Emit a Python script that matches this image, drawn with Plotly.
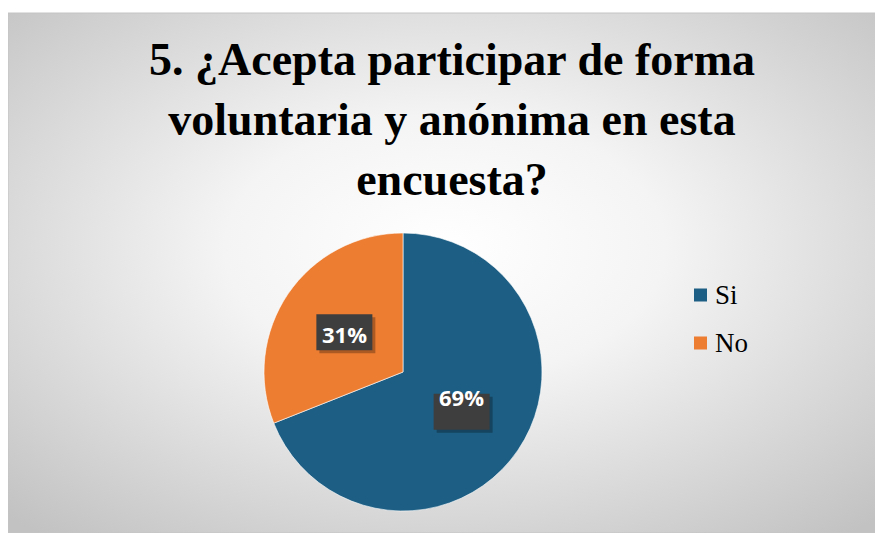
import math
import urllib.parse
import plotly.graph_objects as go

# ---- data ----
labels = ["Si", "No"]
values = [69, 31]
colors = ["#1D5F84", "#ED7D31"]
title_text = "5. ¿Acepta participar de forma<br>voluntaria y anónima en esta<br>encuesta?"

W, H = 883, 533
# page body adds an 8px offset; positions below are in figure pixels
PCX, PCY, PR = 395, 364, 139

total = sum(values)
pct = [f"{round(v / total * 100)}%" for v in values]

fig = go.Figure()
fig.add_trace(go.Pie(
    labels=labels, values=values, sort=False, direction="clockwise", rotation=0,
    marker=dict(colors=colors, line=dict(color="white", width=0.6)),
    textinfo="none", hoverinfo="label+percent", showlegend=False,
    domain=dict(x=[(PCX - PR) / W, (PCX + PR) / W],
                y=[(H - PCY - PR) / H, (H - PCY + PR) / H]),
))

# background radial gradient (chart area)
svg = ("<svg xmlns='http://www.w3.org/2000/svg' width='874' height='520' preserveAspectRatio='none'>"
       "<defs><radialGradient id='g' cx='50%' cy='45%' r='72%'>"
       "<stop offset='0' stop-color='#ffffff'/><stop offset='0.35' stop-color='#f4f4f4'/>"
       "<stop offset='1' stop-color='#c2c2c2'/></radialGradient></defs>"
       "<rect width='874' height='520' fill='url(#g)'/></svg>")
src = "data:image/svg+xml;charset=utf-8," + urllib.parse.quote(svg)
x0, x1, y0, y1 = 0, 874, 5, 525
fig.add_layout_image(dict(source=src, xref="paper", yref="paper",
                          x=x0 / W, y=1 - y0 / H, sizex=(x1 - x0) / W, sizey=(y1 - y0) / H,
                          xanchor="left", yanchor="top", sizing="stretch", layer="below"))

shapes = [dict(type="rect", xref="paper", yref="paper", x0=x0 / W, x1=x1 / W,
               y0=1 - y1 / H, y1=1 - y0 / H, line=dict(color="#c4c4c4", width=1),
               layer="below")]
annotations = []

# data labels in dark boxes
BW, BH = 56, 36
cum = 0
for v, t in zip(values, pct):
    mid = (cum + v / 2) / total * 2 * math.pi
    cum += v
    d = 0.51 * PR
    px = PCX + d * math.sin(mid)
    py = PCY - d * math.cos(mid)
    # shadow
    shapes.append(dict(type="rect", xref="paper", yref="paper",
                       x0=(px - BW / 2 + 3) / W, x1=(px + BW / 2 + 3) / W,
                       y0=1 - (py + BH / 2 + 3) / H, y1=1 - (py - BH / 2 + 3) / H,
                       fillcolor="rgba(0,0,0,0.28)", line=dict(width=0)))
    shapes.append(dict(type="rect", xref="paper", yref="paper",
                       x0=(px - BW / 2) / W, x1=(px + BW / 2) / W,
                       y0=1 - (py + BH / 2) / H, y1=1 - (py - BH / 2) / H,
                       fillcolor="#3e3e3e", line=dict(width=0)))
    annotations.append(dict(x=px / W, y=1 - py / H, xref="paper", yref="paper",
                            text=f"<b>{t}</b>", showarrow=False, yshift=-2,
                            font=dict(family="Open Sans", size=22, color="white")))

# custom legend
for i, (lab, col) in enumerate(zip(labels, colors)):
    yc = 287 + i * 48
    shapes.append(dict(type="rect", xref="paper", yref="paper",
                       x0=686 / W, x1=699 / W, y0=1 - (yc + 6.5) / H, y1=1 - (yc - 6.5) / H,
                       fillcolor=col, line=dict(width=0)))
    annotations.append(dict(x=705 / W, y=1 - yc / H, xref="paper", yref="paper",
                            text=lab, showarrow=False, xanchor="left", yanchor="middle",
                            font=dict(family="Liberation Serif", size=27, color="black")))

fig.update_layout(
    width=W, height=H, margin=dict(l=0, r=0, t=0, b=0),
    paper_bgcolor="white", plot_bgcolor="white",
    title=dict(text=f"<b>{title_text}</b>", x=444 / W, xanchor="center",
               y=1 - 67 / H, yanchor="top", yref="container",
               font=dict(family="Liberation Serif", size=46, color="black")),
    shapes=shapes, annotations=annotations,
)

fig.write_html("out.html")
